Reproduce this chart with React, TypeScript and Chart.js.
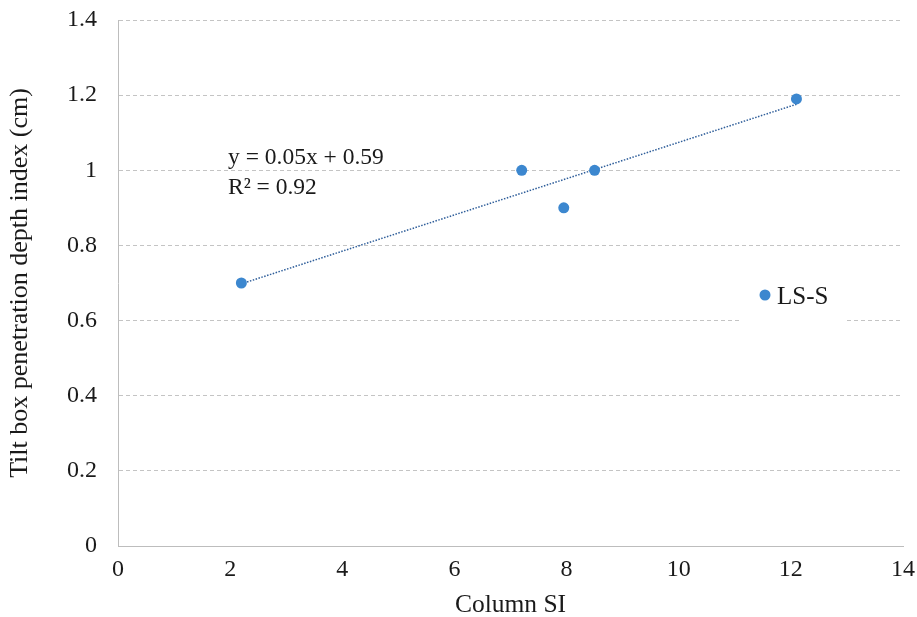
import React, { useEffect, useRef } from "react";
import { Chart, registerables } from "chart.js";

Chart.register(...registerables);

// Column SI vs. tilt box penetration depth index for the LS-S samples
const columnSI = [2.2, 7.2, 7.95, 8.5, 12.1];
const penetrationIndex = [0.7, 1.0, 0.9, 1.0, 1.19];
const seriesName = "LS-S";
const xTicks = [0, 2, 4, 6, 8, 10, 12, 14];
const yTicks = [0, 0.2, 0.4, 0.6, 0.8, 1, 1.2, 1.4];

const FONT = "'Liberation Serif', 'Times New Roman', serif";
const TEXT = "#1a1a1a";
const POINT = "#3c87cf";
const TREND = "#2f5e9a";
const GRID = "#c4c4c4";
const AXIS = "#bdbdbd";

// ordinary least squares fit for the trendline and its label
function linearFit(xs: number[], ys: number[]) {
  const n = xs.length;
  const mx = xs.reduce((a, b) => a + b, 0) / n;
  const my = ys.reduce((a, b) => a + b, 0) / n;
  let sxy = 0, sxx = 0, syy = 0;
  for (let i = 0; i < n; i++) {
    sxy += (xs[i] - mx) * (ys[i] - my);
    sxx += (xs[i] - mx) ** 2;
    syy += (ys[i] - my) ** 2;
  }
  const slope = sxy / sxx;
  const intercept = my - slope * mx;
  const r2 = (sxy * sxy) / (sxx * syy);
  return { slope, intercept, r2 };
}

const fit = linearFit(columnSI, penetrationIndex);
const xMin = Math.min(...columnSI);
const xMax = Math.max(...columnSI);
const trendPoints = [
  { x: xMin, y: fit.intercept + fit.slope * xMin },
  { x: xMax, y: fit.intercept + fit.slope * xMax },
];
const eqLine = `y = ${fit.slope.toFixed(2)}x + ${fit.intercept.toFixed(2)}`;
const r2Line = `R\u00B2 = ${fit.r2.toFixed(2)}`;

const fmt = (v: number) => String(Number(v.toFixed(2)));

// trendline equation and the in-plot legend box
const annotations = {
  id: "annotations",
  afterDraw(chart: any) {
    const { ctx, chartArea } = chart;
    ctx.save();
    ctx.fillStyle = TEXT;
    ctx.font = `23.5px ${FONT}`;
    ctx.textAlign = "left";
    ctx.textBaseline = "alphabetic";
    ctx.fillText(eqLine, chartArea.left + 110, chartArea.top + 144);
    ctx.fillText(r2Line, chartArea.left + 110, chartArea.top + 174);

    // legend
    const bx = chartArea.right - 163;
    const by = chartArea.top + 248;
    ctx.fillStyle = "#ffffff";
    ctx.fillRect(bx, by, 105, 56);
    ctx.fillStyle = POINT;
    ctx.beginPath();
    ctx.arc(bx + 25, by + 27, 5.5, 0, Math.PI * 2);
    ctx.fill();
    ctx.fillStyle = TEXT;
    ctx.font = `25px ${FONT}`;
    ctx.textBaseline = "alphabetic";
    ctx.fillText(seriesName, bx + 37, by + 35.5);
    ctx.restore();
  },
};

export default function App() {
  const ref = useRef<HTMLCanvasElement | null>(null);

  useEffect(() => {
    if (!ref.current) return;
    const chart = new Chart(ref.current, {
      type: "scatter",
      data: {
        datasets: [
          {
            label: seriesName,
            data: columnSI.map((x, i) => ({ x, y: penetrationIndex[i] })),
            backgroundColor: POINT,
            borderColor: POINT,
            pointRadius: 5.5,
            pointBorderWidth: 0,
            order: 0,
          },
          {
            label: "Linear (" + seriesName + ")",
            type: "line",
            data: trendPoints,
            borderColor: TREND,
            borderWidth: 1.5,
            borderDash: [1.5, 1.5],
            pointRadius: 0,
            fill: false,
            order: 1,
          } as any,
        ],
      },
      options: {
        responsive: false,
        animation: false,
        layout: { padding: { left: 0, right: 14, top: 20, bottom: 0 } },
        plugins: {
          legend: { display: false },
          tooltip: { enabled: false },
        },
        scales: {
          x: {
            type: "linear",
            min: 0,
            max: 14,
            afterBuildTicks: (s: any) => {
              s.ticks = xTicks.map((v) => ({ value: v }));
            },
            afterFit: (s: any) => {
              s.height = 71;
              s.paddingLeft = 0;
              s.paddingRight = 0;
            },
            ticks: {
              padding: 9,
              color: TEXT,
              font: { family: FONT, size: 24 },
              callback: (v: any) => fmt(Number(v)),
            },
            grid: { display: false, drawTicks: false },
            border: { display: true, color: AXIS, width: 1 },
            title: {
              display: true,
              text: "Column SI",
              color: TEXT,
              font: { family: FONT, size: 25.5, lineHeight: 0.9 },
              padding: { top: 0, bottom: 0 },
            },
          },
          y: {
            type: "linear",
            min: 0,
            max: 1.4,
            afterBuildTicks: (s: any) => {
              s.ticks = yTicks.map((v) => ({ value: v }));
            },
            afterFit: (s: any) => {
              s.width = 118;
              s.paddingTop = 0;
              s.paddingBottom = 0;
            },
            ticks: {
              padding: 21,
              color: TEXT,
              font: { family: FONT, size: 24 },
              callback: (v: any) => fmt(Number(v)),
            },
            grid: {
              drawTicks: false,
              lineWidth: 1,
              color: (c: any) => (c.tick && c.tick.value === 0 ? "rgba(0,0,0,0)" : GRID),
            },
            border: { display: true, color: AXIS, width: 1, dash: [4, 3] },
            title: {
              display: true,
              text: "Tilt box penetration depth index (cm)",
              color: TEXT,
              font: { family: FONT, size: 26, lineHeight: 1.2 },
              padding: { top: 5, bottom: 0 },
            },
          },
        },
      },
      plugins: [annotations],
    });
    return () => chart.destroy();
  }, []);

  return (
    <div style={{ position: "fixed", left: 0, top: 0, width: 917, height: 617, background: "#fff" }}>
      <canvas ref={ref} width={917} height={617} />
    </div>
  );
}
